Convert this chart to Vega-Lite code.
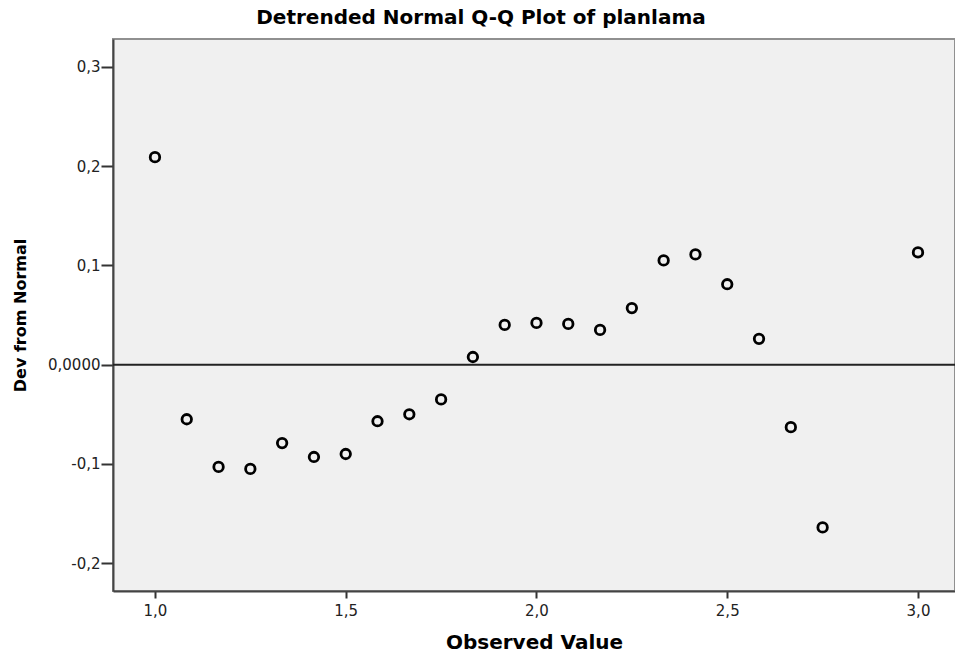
{
  "$schema": "https://vega.github.io/schema/vega-lite/v6.json",
  "width": 842,
  "height": 552,
  "autosize": {"type": "none"},
  "padding": {"left": 113, "top": 39, "right": 0, "bottom": 68},
  "background": "white",
  "config": {
    "font": "Liberation Sans",
    "view": {"fill": "#f0f0f0", "stroke": "#909090", "strokeWidth": 2}
  },
  "title": {
    "text": "Detrended Normal Q-Q Plot of planlama",
    "fontSize": 20,
    "fontWeight": "bold",
    "font": "DejaVu Sans",
    "color": "#000000",
    "anchor": "middle",
    "frame": "group",
    "dx": -53,
    "offset": 11
  },
  "data": {
    "values": [
      {"observed": 1.0, "dev": 0.209},
      {"observed": 1.0833, "dev": -0.055},
      {"observed": 1.1667, "dev": -0.103},
      {"observed": 1.25, "dev": -0.105},
      {"observed": 1.3333, "dev": -0.079},
      {"observed": 1.4167, "dev": -0.093},
      {"observed": 1.5, "dev": -0.090},
      {"observed": 1.5833, "dev": -0.057},
      {"observed": 1.6667, "dev": -0.050},
      {"observed": 1.75, "dev": -0.035},
      {"observed": 1.8333, "dev": 0.0077},
      {"observed": 1.9167, "dev": 0.040},
      {"observed": 2.0, "dev": 0.042},
      {"observed": 2.0833, "dev": 0.041},
      {"observed": 2.1667, "dev": 0.035},
      {"observed": 2.25, "dev": 0.057},
      {"observed": 2.3333, "dev": 0.105},
      {"observed": 2.4167, "dev": 0.111},
      {"observed": 2.5, "dev": 0.081},
      {"observed": 2.5833, "dev": 0.026},
      {"observed": 2.6667, "dev": -0.063},
      {"observed": 2.75, "dev": -0.164},
      {"observed": 3.0, "dev": 0.113}
    ]
  },
  "layer": [
    {
      "data": {"values": [{"zero": 0}]},
      "mark": {"type": "rule", "color": "#222222", "strokeWidth": 2},
      "encoding": {
        "y": {"field": "zero", "type": "quantitative", "scale": {"domain": [-0.228, 0.328], "nice": false, "zero": false}}
      }
    },
    {
      "mark": {"type": "point", "shape": "circle", "filled": false, "size": 90, "strokeWidth": 2.8, "color": "#000000", "opacity": 1},
      "encoding": {
        "x": {
          "field": "observed",
          "type": "quantitative",
          "scale": {"domain": [0.89, 3.097], "nice": false, "zero": false},
          "axis": {
            "title": "Observed Value",
            "titleFont": "DejaVu Sans",
            "titleFontSize": 20,
            "titleFontWeight": "bold",
            "titleColor": "#000000",
            "titlePadding": 14,
            "values": [1, 1.5, 2, 2.5, 3],
            "labelExpr": "replace(format(datum.value, '.1f'), '.', ',')",
            "labelFont": "DejaVu Sans",
            "labelFontSize": 15,
            "labelColor": "#222222",
            "labelPadding": 5,
            "tickSize": 7,
            "tickWidth": 2,
            "tickColor": "#333333",
            "domainColor": "#444444",
            "domainWidth": 2,
            "grid": false
          }
        },
        "y": {
          "field": "dev",
          "type": "quantitative",
          "scale": {"domain": [-0.228, 0.328], "nice": false, "zero": false},
          "axis": {
            "title": "Dev from Normal",
            "titleFont": "DejaVu Sans",
            "titleFontSize": 16,
            "titleFontWeight": "bold",
            "titleColor": "#000000",
            "titlePadding": 19,
            "values": [-0.2, -0.1, 0, 0.1, 0.2, 0.3],
            "labelExpr": "datum.value == 0 ? '0,0000' : (datum.value < 0 ? '-' : '') + replace(format(abs(datum.value), '.1f'), '.', ',')",
            "labelFont": "DejaVu Sans",
            "labelFontSize": 15,
            "labelColor": "#222222",
            "labelPadding": 1,
            "tickSize": 12,
            "tickWidth": 2,
            "tickColor": "#333333",
            "domainColor": "#444444",
            "domainWidth": 2,
            "grid": false
          }
        }
      }
    }
  ]
}
